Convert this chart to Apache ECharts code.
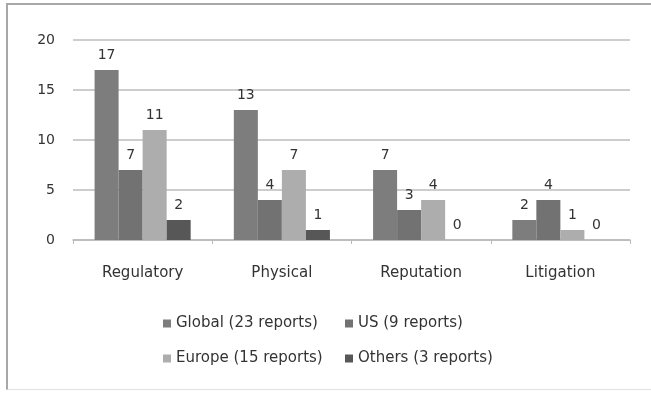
<!DOCTYPE html>
<html>
<head>
<meta charset="utf-8">
<script src="https://cdn.jsdelivr.net/npm/echarts@6/dist/echarts.min.js"></script>
<style>
  html, body { margin: 0; padding: 0; background: #fff; overflow: hidden;
               width: 651px; height: 393px; }
  #frame { position: absolute; left: 6px; top: 3px; width: 720px; height: 387px;
           border-left: 2px solid #a8a8a8; border-top: 2px solid #a8a8a8;
           border-bottom: 1px solid #e2e2e2; box-sizing: border-box; }
  #chart { width: 651px; height: 393px; position: absolute; left: 0; top: 0; }
</style>
</head>
<body>
<div id="frame"></div>
<div id="chart"></div>
<script>
// Risk categories and the number of reports mentioning each, by region
const categories = ['Regulatory', 'Physical', 'Reputation', 'Litigation'];
const seriesNames = ['Global (23 reports)', 'US (9 reports)', 'Europe (15 reports)', 'Others (3 reports)'];
const globalValues = [17, 13, 7, 2];
const usValues = [7, 4, 3, 4];
const europeValues = [11, 7, 4, 1];
const othersValues = [2, 1, 0, 0];
const yTicks = [0, 5, 10, 15, 20];

const colors = ['#7d7d7d', '#727272', '#adadad', '#575757'];
const valueSets = [globalValues, usValues, europeValues, othersValues];
const font = 'DejaVu Sans';
const textColor = '#333';

const chart = echarts.init(document.getElementById('chart'), null, { renderer: 'canvas' });

const series = seriesNames.map((name, i) => ({
  name: name,
  type: 'bar',
  data: valueSets[i],
  itemStyle: { color: colors[i] },
  barGap: '0%',
  barCategoryGap: '31%',
  label: {
    show: true,
    position: 'top',
    distance: 8,
    color: textColor,
    fontFamily: font,
    fontSize: 14
  }
}));

// One legend per item so the two columns line up
const legendPos = [
  { left: 158, top: 311 },
  { left: 340, top: 311 },
  { left: 158, top: 346 },
  { left: 340, top: 346 }
];
const legends = seriesNames.map((name, i) => ({
  data: [name],
  left: legendPos[i].left,
  top: legendPos[i].top,
  icon: 'rect',
  itemWidth: 8,
  itemHeight: 8,
  itemGap: 5,
  textStyle: { fontFamily: font, fontSize: 15, color: textColor }
}));

chart.setOption({
  animation: false,
  backgroundColor: 'transparent',
  grid: { left: 73, right: 21, top: 40, bottom: 153 },
  legend: legends,
  xAxis: {
    type: 'category',
    data: categories,
    axisLine: { lineStyle: { color: '#b9b9b9', width: 1.5 } },
    axisTick: { show: true, length: 4, lineStyle: { color: '#b9b9b9' } },
    axisLabel: { fontFamily: font, fontSize: 15, color: textColor, margin: 26 }
  },
  yAxis: {
    type: 'value',
    min: yTicks[0],
    max: yTicks[yTicks.length - 1],
    interval: yTicks[1] - yTicks[0],
    axisLine: { show: false },
    axisTick: { show: false },
    splitLine: { lineStyle: { color: '#bcbcbc', width: 1.5 } },
    axisLabel: { fontFamily: font, fontSize: 14, color: textColor, margin: 18 }
  },
  series: series
});
</script>
</body>
</html>
